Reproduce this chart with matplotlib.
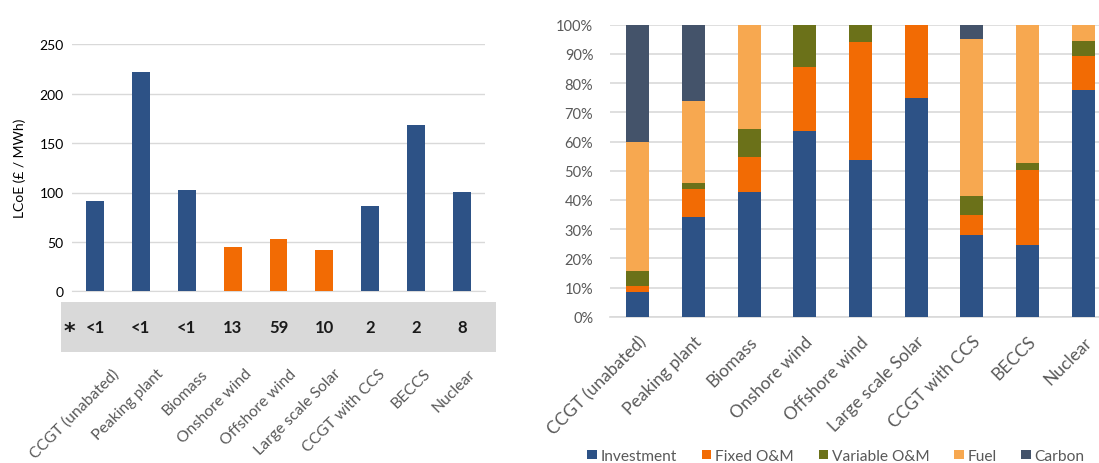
import matplotlib
matplotlib.use("Agg")
import matplotlib.pyplot as plt
from matplotlib.patches import Rectangle, Patch
import numpy as np

plt.rcParams['font.family'] = ['Lato', 'DejaVu Sans']

categories = ["CCGT (unabated)", "Peaking plant", "Biomass", "Onshore wind",
              "Offshore wind", "Large scale Solar", "CCGT with CCS", "BECCS", "Nuclear"]
lcoe = [91, 222, 103, 45, 53, 42, 86, 168, 101]
renewable = [False, False, False, True, True, True, False, False, False]
band_values = ["<1", "<1", "<1", "13", "59", "10", "2", "2", "8"]

investment = [8.4, 34.2, 42.6, 63.7, 53.7, 75.0, 28.0, 24.7, 77.7]
fixed_om = [2.2, 9.4, 12.2, 21.8, 40.3, 25.0, 6.7, 25.6, 11.7]
variable_om = [5.0, 2.3, 9.6, 14.5, 6.0, 0.0, 6.6, 2.2, 5.0]
fuel = [44.2, 28.0, 35.6, 0.0, 0.0, 0.0, 53.7, 47.5, 5.6]
carbon = [40.2, 26.1, 0.0, 0.0, 0.0, 0.0, 5.0, 0.0, 0.0]
component_names = ["Investment", "Fixed O&M", "Variable O&M", "Fuel", "Carbon"]

BLUE = "#2d5286"
ORANGE = "#f26b04"
OLIVE = "#6b7119"
LIGHTOR = "#f7a850"
SLATE = "#44536a"
GRID = "#d9d9d9"
GRAYTXT = "#595959"

W, H = 1099, 464
fig = plt.figure(figsize=(W / 100, H / 100), dpi=100)

def ax_rect(x0, x1, ytop, ybot):
    return [x0 / W, 1 - ybot / H, (x1 - x0) / W, (ybot - ytop) / H]

# ---------- Left chart ----------
ax1 = fig.add_axes(ax_rect(72, 485, 45.3, 292.3))
ax1.patch.set_visible(False)
x = np.arange(len(categories))
colors = [ORANGE if r else BLUE for r in renewable]
ax1.bar(x, lcoe, width=0.39, color=colors, zorder=3)
ax1.set_xlim(-0.5, len(categories) - 0.5)
ax1.set_ylim(0, 250)
ax1.set_yticks(np.arange(0, 251, 50))
ax1.yaxis.grid(True, color=GRID, linewidth=1, zorder=0)
for s in ["top", "right", "left"]:
    ax1.spines[s].set_visible(False)
ax1.spines["bottom"].set_color(GRID)
ax1.tick_params(axis="y", length=0, labelsize=10, labelcolor="black", pad=6)
ax1.tick_params(axis="x", length=0, labelbottom=False)
ax1.set_ylabel("LCoE (£ / MWh)", fontsize=10, color="black", labelpad=10)

# gray band
band = Rectangle((61 / W, 1 - 352.7 / H), (496 - 61) / W, 50 / H,
                 transform=fig.transFigure, facecolor="#d9d9d9", edgecolor="none",
                 zorder=0.5, clip_on=False)
ax1.add_patch(band)
band_y = (292.3 - 328) / 247
tr = ax1.get_xaxis_transform()
for xi, v in zip(x, band_values):
    ax1.text(xi, band_y, v, transform=tr, ha="center", va="center",
             fontsize=12, fontweight="bold", color="#1a1a1a", clip_on=False, zorder=6)
ax1.text(69 / W, 1 - 332 / H, "*", transform=fig.transFigure, ha="center", va="center",
         fontsize=16, fontweight="bold", family="DejaVu Sans", color="#1a1a1a",
         zorder=6, clip_on=False)

# rotated labels left
lab_y = (292.3 - 367) / 247
for xi, c in zip(x, categories):
    ax1.text(xi + 0.36 - 0.03 * xi, lab_y, c, transform=tr, rotation=45,
             rotation_mode="anchor", ha="right", va="top", fontsize=11.3,
             color=GRAYTXT, clip_on=False)

# ---------- Right chart ----------
ax2 = fig.add_axes(ax_rect(610, 1111, 25.7, 317.7))
series = [investment, fixed_om, variable_om, fuel, carbon]
scolors = [BLUE, ORANGE, OLIVE, LIGHTOR, SLATE]
bottom = np.zeros(len(categories))
for vals, col, name in zip(series, scolors, component_names):
    vals = np.array(vals) / 100.0
    ax2.bar(x, vals, bottom=bottom, width=0.41, color=col, zorder=3, label=name)
    bottom += vals
ax2.set_xlim(-0.5, len(categories) - 0.5)
ax2.set_ylim(0, 1)
ax2.set_yticks(np.arange(0, 1.01, 0.1))
ax2.set_yticklabels([f"{int(round(t * 100))}%" for t in np.arange(0, 1.01, 0.1)])
ax2.yaxis.grid(True, color=GRID, linewidth=1.2, zorder=0)
for s in ["top", "right", "left"]:
    ax2.spines[s].set_visible(False)
ax2.spines["bottom"].set_color(GRID)
ax2.spines["bottom"].set_linewidth(1.2)
ax2.tick_params(axis="y", length=0, labelsize=10.5, labelcolor=GRAYTXT, pad=12)
ax2.tick_params(axis="x", length=0, labelbottom=False)
tr2 = ax2.get_xaxis_transform()
lab_y2 = (317.7 - 334) / 292
for xi, c in zip(x, categories):
    ax2.text(xi + 0.0, lab_y2, c, transform=tr2, rotation=45,
             rotation_mode="anchor", ha="right", va="top", fontsize=12.5,
             color=GRAYTXT, clip_on=False)

handles = [Patch(facecolor=c, label=n) for c, n in zip(scolors, component_names)]
fig.legend(handles=handles, loc="center", bbox_to_anchor=(836 / W, 1 - 457 / H),
           ncol=5, frameon=False, fontsize=11.2, labelcolor=GRAYTXT,
           handlelength=0.6, handleheight=0.6, handletextpad=0.25,
           columnspacing=1.6)

fig.savefig("out.png", dpi=100)
